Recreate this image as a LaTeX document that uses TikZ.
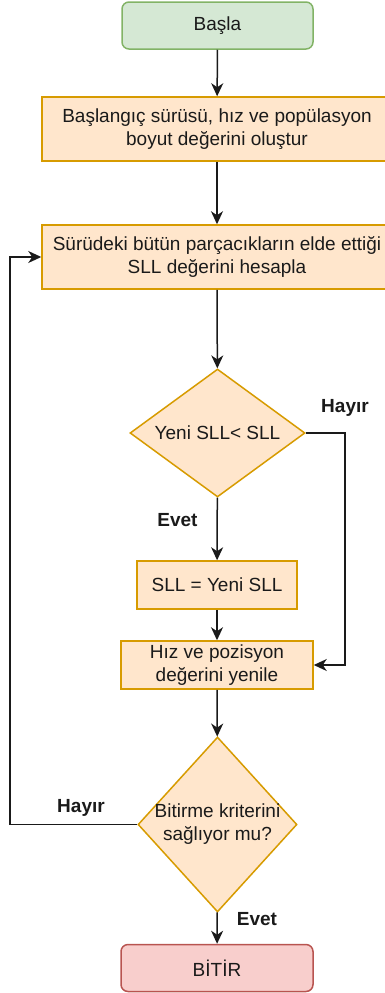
\documentclass[tikz,border=0pt]{standalone}
\usepackage{fontspec}
\setmainfont{Liberation Sans}
\usetikzlibrary{shapes.geometric,arrows.meta}
\definecolor{startfill}{HTML}{D5E8D4}
\definecolor{startline}{HTML}{82B366}
\definecolor{procfill}{HTML}{FFE6CC}
\definecolor{procline}{HTML}{D79B00}
\definecolor{endfill}{HTML}{F8CECC}
\definecolor{endline}{HTML}{B85450}
\definecolor{ink}{HTML}{1A1A1A}
\tikzset{
  base/.style={line width=1.5pt, inner sep=0pt, align=center, text=ink,
    font=\fontsize{19}{23}\selectfont},
  terminal/.style={base, rectangle, rounded corners=7pt, minimum height=47pt},
  startbox/.style={terminal, fill=startfill, draw=startline},
  endbox/.style={terminal, fill=endfill, draw=endline},
  procbox/.style={base, rectangle, fill=procfill, draw=procline},
  decision/.style={base, diamond, fill=procfill, draw=procline},
  flow/.style={line width=1.5pt, draw=ink, -{Stealth[length=13pt,width=12pt,inset=4pt]}},
  answer/.style={font=\fontsize{19}{23}\selectfont\bfseries, text=ink, inner sep=0pt}
}
\begin{document}
\begin{tikzpicture}[x=1pt,y=-1pt]
  \useasboundingbox (0,0) rectangle (385,993);

  % steps of the flow
  \node[startbox, minimum width=191pt] (start) at (217.5,25.5) {Başla};
  \node[procbox, minimum width=350pt, minimum height=64pt] (init) at (217,129)
    {Başlangıç sürüsü, hız ve popülasyon\\boyut değerini oluştur};
  \node[procbox, minimum width=350pt, minimum height=64pt] (eval) at (217,257)
    {Sürüdeki bütün parçacıkların elde ettiği\\SLL değerini hesapla};
  \node[decision, minimum width=175pt, minimum height=128pt,
    label={[base]center:Yeni SLL< SLL}] (cmp) at (217.5,433) {};
  \node[procbox, minimum width=160pt, minimum height=48pt] (upd) at (217,585)
    {SLL = Yeni SLL};
  \node[procbox, minimum width=192pt, minimum height=48pt] (move) at (217,665)
    {Hız ve pozisyon\\değerini yenile};
  \node[decision, minimum width=159pt, minimum height=175pt,
    label={[base]center:Bitirme kriterini\\sağlıyor mu?}] (stop) at (217.5,824.5) {};
  \node[endbox, minimum width=192pt] (finish) at (217,968) {BİTİR};

  % bends of the two side paths
  \coordinate (rbend) at (345,433);
  \coordinate (lbend) at (10,824.5);

  % connectors
  \draw[flow] (start) -- (init);
  \draw[flow] (init) -- (eval);
  \draw[flow] (eval) -- (cmp);
  \draw[flow] (cmp) -- (upd);
  \draw[flow] (upd) -- (move);
  \draw[flow] (cmp.east) -- (rbend) |- (move.east);
  \draw[flow] (move) -- (stop);
  \draw[flow] (stop) -- (finish);
  \draw[flow] (stop.west) -- (lbend) |- (eval.west);

  % branch labels
  \node[answer] (no1) at (345,408) {Hayır};
  \node[answer] (yes1) at (177.5,520) {Evet};
  \node[answer] (no2) at (81,808) {Hayır};
  \node[answer] (yes2) at (257,919) {Evet};
\end{tikzpicture}
\end{document}
